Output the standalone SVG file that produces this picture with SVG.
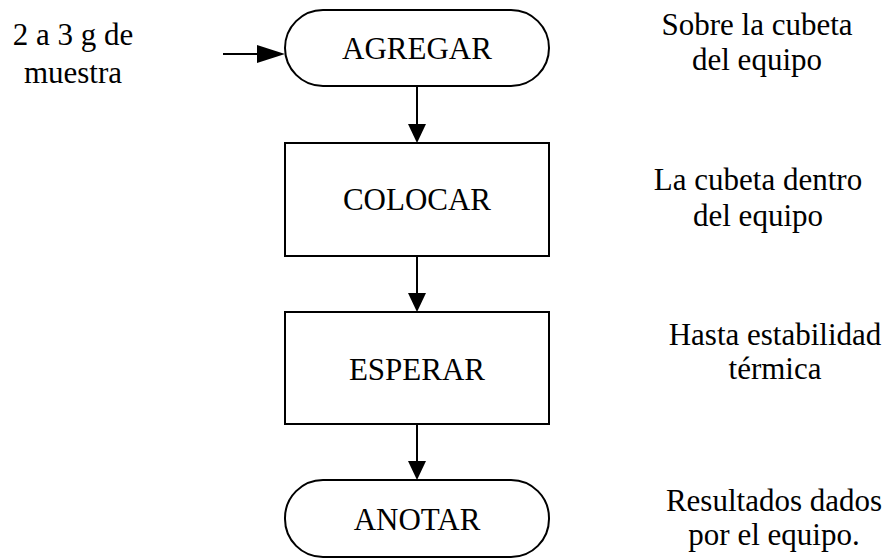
<svg xmlns="http://www.w3.org/2000/svg" width="889" height="560" viewBox="0 0 889 560">
<rect width="889" height="560" fill="#fff"/>
<g id="connectors" stroke="#000" stroke-width="2" fill="none">
<line x1="223" y1="54" x2="258" y2="54"/>
<polygon points="257,45 285,54 257,63" fill="#000" stroke="none"/>
<line x1="417" y1="86" x2="417" y2="125"/>
<polygon points="408,124 417,143 426,124" fill="#000" stroke="none"/>
<line x1="417" y1="256" x2="417" y2="294"/>
<polygon points="408,293 417,312 426,293" fill="#000" stroke="none"/>
<line x1="417" y1="424" x2="417" y2="462"/>
<polygon points="408,461 417,480 426,461" fill="#000" stroke="none"/>
</g>
<g id="agregar">
<rect x="285" y="10" width="264" height="76" rx="38" ry="38" fill="#fff" stroke="#000" stroke-width="2"/>
<text x="417" y="59" font-family="Liberation Serif, serif" font-size="31" text-anchor="middle">AGREGAR</text>
</g>
<g id="colocar">
<rect x="285" y="143" width="264" height="113" fill="#fff" stroke="#000" stroke-width="2"/>
<text x="417" y="210" font-family="Liberation Serif, serif" font-size="31" text-anchor="middle">COLOCAR</text>
</g>
<g id="esperar">
<rect x="285" y="312" width="264" height="112" fill="#fff" stroke="#000" stroke-width="2"/>
<text x="417" y="380" font-family="Liberation Serif, serif" font-size="31" text-anchor="middle">ESPERAR</text>
</g>
<g id="anotar">
<rect x="285" y="480" width="264" height="77" rx="38" ry="38" fill="#fff" stroke="#000" stroke-width="2"/>
<text x="417" y="530" font-family="Liberation Serif, serif" font-size="31" text-anchor="middle">ANOTAR</text>
</g>
<g id="note-input">
<text x="73" y="45" font-family="Liberation Serif, serif" font-size="31" text-anchor="middle">2 a 3 g de</text>
<text x="73" y="83" font-family="Liberation Serif, serif" font-size="31" text-anchor="middle">muestra</text>
</g>
<g id="note-agregar">
<text x="757" y="35" font-family="Liberation Serif, serif" font-size="31" text-anchor="middle">Sobre la cubeta</text>
<text x="757" y="70" font-family="Liberation Serif, serif" font-size="31" text-anchor="middle">del equipo</text>
</g>
<g id="note-colocar">
<text x="758" y="190" font-family="Liberation Serif, serif" font-size="31" text-anchor="middle">La cubeta dentro</text>
<text x="758" y="226" font-family="Liberation Serif, serif" font-size="31" text-anchor="middle">del equipo</text>
</g>
<g id="note-esperar">
<text x="775" y="345" font-family="Liberation Serif, serif" font-size="31" text-anchor="middle">Hasta estabilidad</text>
<text x="775" y="379" font-family="Liberation Serif, serif" font-size="31" text-anchor="middle">térmica</text>
</g>
<g id="note-anotar">
<text x="774" y="511" font-family="Liberation Serif, serif" font-size="31" text-anchor="middle">Resultados dados</text>
<text x="774" y="545" font-family="Liberation Serif, serif" font-size="31" text-anchor="middle">por el equipo.</text>
</g>
</svg>
